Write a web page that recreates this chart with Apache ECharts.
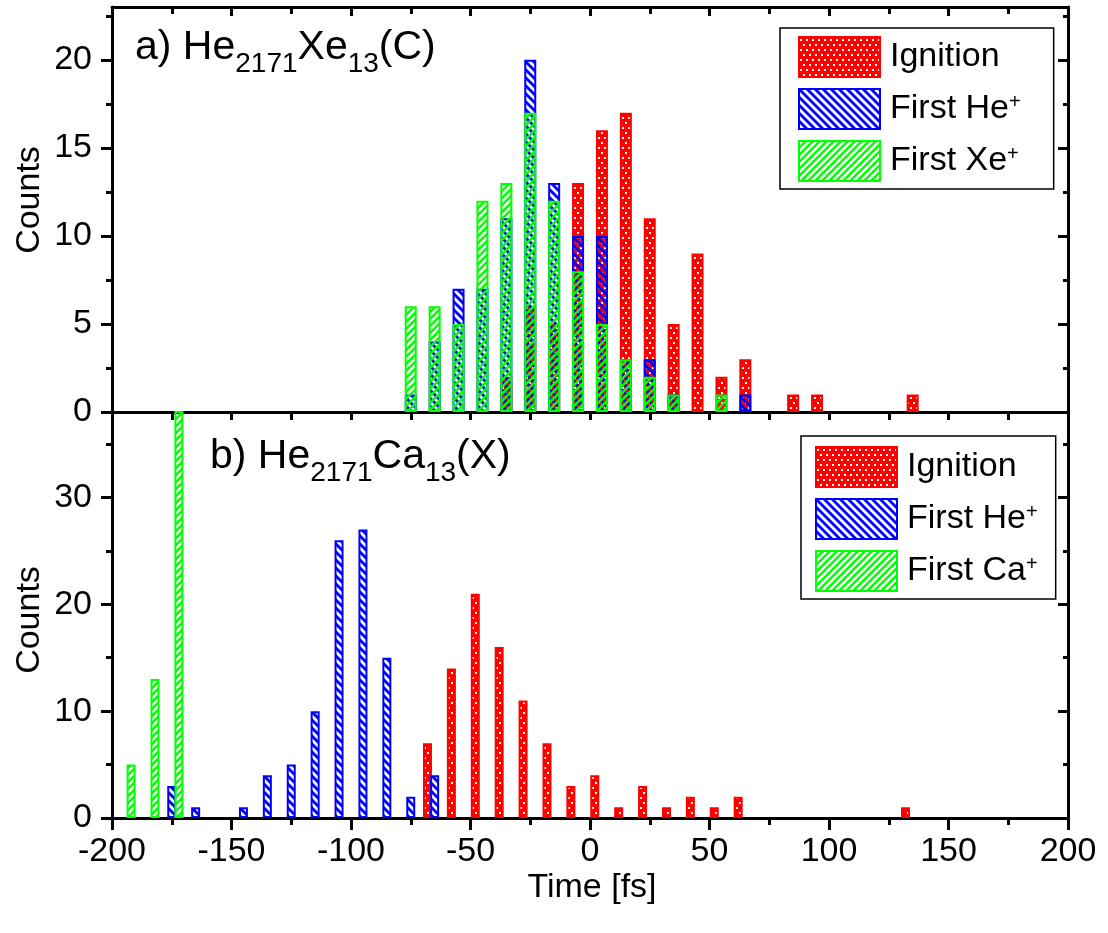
<!DOCTYPE html>
<html>
<head>
<meta charset="utf-8">
<script src="https://cdn.jsdelivr.net/npm/echarts@6/dist/echarts.min.js"></script>
<style>
  html, body { margin: 0; padding: 0; background: #fff; }
  #chart { width: 1108px; height: 933px; }
</style>
</head>
<body>
<div id="chart"></div>
<script>
// ---- Panel a) He2171Xe13(C): bin centres (fs) and counts per bin ----
const binsA     = [-75, -65, -55, -45, -35, -25, -15, -5, 5, 15, 25, 35, 45, 55, 65, 75, 85, 95, 105, 115, 125, 135];
const ignitionA = [0, 0, 0, 0, 2, 6, 5, 13, 16, 17, 11, 5, 9, 2, 3, 0, 1, 1, 0, 0, 0, 1];
const firstHeA  = [1, 4, 7, 7, 11, 20, 13, 10, 10, 3, 3, 1, 0, 0, 1, 0, 0, 0, 0, 0, 0, 0];
const firstXeA  = [6, 6, 5, 12, 13, 17, 12, 8, 5, 3, 2, 1, 0, 1, 0, 0, 0, 0, 0, 0, 0, 0];

// ---- Panel b) He2171Ca13(X): each quantity has its own bin centres ----
const binsIgnitionB = [-68, -58, -48, -38, -28, -18, -8, 2, 12, 22, 32, 42, 52, 62, 132];
const ignitionB     = [7, 14, 21, 16, 11, 7, 3, 4, 1, 3, 1, 2, 1, 2, 1];
const binsHeB       = [-175, -165, -145, -135, -125, -115, -105, -95, -85, -75, -65];
const firstHeB      = [3, 1, 1, 4, 5, 10, 26, 27, 15, 2, 4];
const binsCaB       = [-192, -182, -172];
const firstCaB      = [5, 13, 82];

// ---- Axis ranges and tick values ----
const timeRange   = [-200, 200];
const countsMaxA  = 23;
const countsMaxB  = 38;
const majorTicksA = [0, 5, 10, 15, 20];
const minorTicksA = [2.5, 7.5, 12.5, 17.5, 22.5];
const majorTicksB = [0, 10, 20, 30];
const minorTicksB = [5, 15, 25, 35];

const FONT  = "'Liberation Sans', Arial, Helvetica, sans-serif";
const RED   = '#ff0000';
const BLUE  = '#0000ff';
const GREEN = '#00ff00';

// Fill patterns: dotted red, back-slash hatched blue, forward-slash hatched green
function makePattern(w, h, draw) {
  const c = document.createElement('canvas');
  c.width = w; c.height = h;
  draw(c.getContext('2d'), w, h);
  return { image: c, repeat: 'repeat' };
}
const dotted = makePattern(6, 10, (ctx, w, h) => {
  ctx.fillStyle = RED; ctx.fillRect(0, 0, w, h);
  ctx.fillStyle = '#ffffff';
  ctx.fillRect(1, 2, 2, 2);
  ctx.fillRect(4, 7, 2, 2);
});
const backHatch = makePattern(8, 8, (ctx, w, h) => {
  ctx.strokeStyle = BLUE; ctx.lineWidth = 2.8;
  for (const o of [-w, 0, w]) {
    ctx.beginPath(); ctx.moveTo(o - 1, -1); ctx.lineTo(o + w + 1, h + 1); ctx.stroke();
  }
});
const fwdHatch = makePattern(7, 7, (ctx, w, h) => {
  ctx.strokeStyle = GREEN; ctx.lineWidth = 2.4;
  for (const o of [-w, 0, w]) {
    ctx.beginPath(); ctx.moveTo(o - 1, h + 1); ctx.lineTo(o + w + 1, -1); ctx.stroke();
  }
});

function pairs(bins, vals) {
  return bins.map((b, i) => [b, vals[i]]).filter(p => p[1] > 0);
}
function bars(name, data, fill, stroke, xi, yi, width) {
  return {
    type: 'bar', name, data, xAxisIndex: xi, yAxisIndex: yi,
    barWidth: width, barGap: '-100%', clip: true,
    itemStyle: { color: fill, borderColor: stroke, borderWidth: 2 },
    emphasis: { disabled: true }
  };
}

const black = { color: '#000', width: 3 };
const line  = { show: true, onZero: false, lineStyle: black };
const noLine = { show: false, onZero: false };

function timeAxis(gridIndex, position, tick, minor, label) {
  return {
    type: 'value', gridIndex, position, min: timeRange[0], max: timeRange[1], interval: 50,
    splitLine: { show: false }, axisLine: line,
    axisTick: tick ? Object.assign({ show: true, lineStyle: black }, tick) : { show: false },
    minorTick: minor ? Object.assign({ show: true, splitNumber: 2, lineStyle: black }, minor) : { show: false },
    axisLabel: label ? Object.assign({ show: true, color: '#000', fontFamily: FONT }, label) : { show: false }
  };
}
function countAxes(gridIndex, max, majors, minors) {
  const base = { type: 'value', gridIndex, min: 0, max, splitLine: { show: false } };
  return [
    Object.assign({}, base, { position: 'left', axisLine: line,
      axisTick: { show: true, length: 11, customValues: majors, lineStyle: black },
      axisLabel: { show: true, customValues: majors, fontSize: 34, margin: 20, color: '#000', fontFamily: FONT } }),
    Object.assign({}, base, { position: 'left', axisLine: noLine,
      axisTick: { show: true, length: 6, customValues: minors, lineStyle: black },
      axisLabel: { show: false } }),
    Object.assign({}, base, { position: 'right', axisLine: line,
      axisTick: { show: true, inside: true, length: 10, customValues: majors, lineStyle: black },
      axisLabel: { show: false } }),
    Object.assign({}, base, { position: 'right', axisLine: noLine,
      axisTick: { show: true, inside: true, length: 5, customValues: minors, lineStyle: black },
      axisLabel: { show: false } })
  ];
}

function legendAt(left, top, names, padding) {
  return {
    orient: 'vertical', left, top, data: names,
    itemWidth: 81, itemHeight: 40, itemGap: 10, padding,
    borderColor: '#000', borderWidth: 1.5, backgroundColor: '#fff',
    selectedMode: false,
    icon: 'rect',
    itemStyle: { borderWidth: 2 },
    formatter: n => n.replace('+', '{sup|+}'),
    textStyle: {
      fontSize: 34, fontFamily: FONT, color: '#000', lineHeight: 34, padding: [0, 0, 0, 5],
      rich: { sup: { fontSize: 20, lineHeight: 12, verticalAlign: 'top', fontFamily: FONT, color: '#000' } }
    }
  };
}

const titleRich = {
  m: { fontSize: 41, lineHeight: 44, verticalAlign: 'top', fontFamily: FONT, color: '#000' },
  s: { fontSize: 28, lineHeight: 74, verticalAlign: 'middle', fontFamily: FONT, color: '#000' }
};

const option = {
  animation: false,
  backgroundColor: '#fff',
  grid: [
    { left: 112, right: 40, top: 7, height: 405 },
    { left: 112, right: 40, top: 412, height: 406 }
  ],
  xAxis: [
    timeAxis(0, 'bottom', null, null, null),
    timeAxis(0, 'top', { inside: true, length: 9 }, { length: 7 }, null),
    timeAxis(1, 'bottom', { length: 12 }, { length: 7 }, { fontSize: 34, margin: 17 }),
    timeAxis(1, 'top', { inside: true, length: 8 }, { length: 8 }, null)
  ],
  yAxis: countAxes(0, countsMaxA, majorTicksA, minorTicksA)
    .concat(countAxes(1, countsMaxB, majorTicksB, minorTicksB)),
  legend: [
    legendAt(780, 28, ['Ignition', 'First He+', 'First Xe+'], [8, 33, 7, 18]),
    legendAt(801, 436, ['Ignition', 'First He+', 'First Ca+'], [10, 18, 7, 14])
  ],
  series: [
    bars('Ignition',  pairs(binsA, ignitionA), dotted,    RED,   0, 0, 12),
    bars('First He+', pairs(binsA, firstHeA),  backHatch, BLUE,  0, 0, 12),
    bars('First Xe+', pairs(binsA, firstXeA),  fwdHatch,  GREEN, 0, 0, 12),
    bars('Ignition',  pairs(binsIgnitionB, ignitionB), dotted,    RED,   2, 4, 9),
    bars('First He+', pairs(binsHeB, firstHeB),        backHatch, BLUE,  2, 4, 9),
    bars('First Ca+', pairs(binsCaB, firstCaB),        fwdHatch,  GREEN, 2, 4, 9)
  ],
  graphic: [
    { type: 'text', x: 135, y: 27, style: { text: '{m|a) He}{s|2171}{m|Xe}{s|13}{m|(C)}', rich: titleRich, align: 'left', verticalAlign: 'top' } },
    { type: 'text', x: 210, y: 436, style: { text: '{m|b) He}{s|2171}{m|Ca}{s|13}{m|(X)}', rich: titleRich, align: 'left', verticalAlign: 'top' } },
    { type: 'text', x: 30, y: 200, rotation: Math.PI / 2, style: { text: 'Counts', fontSize: 34, fontFamily: FONT, fill: '#000', align: 'center', verticalAlign: 'middle' } },
    { type: 'text', x: 30, y: 620, rotation: Math.PI / 2, style: { text: 'Counts', fontSize: 34, fontFamily: FONT, fill: '#000', align: 'center', verticalAlign: 'middle' } },
    { type: 'text', x: 592, y: 888, style: { text: 'Time [fs]', fontSize: 34, fontFamily: FONT, fill: '#000', align: 'center', verticalAlign: 'middle' } }
  ]
};

const chart = echarts.init(document.getElementById('chart'), null, { renderer: 'canvas' });
chart.setOption(option);
</script>
</body>
</html>
